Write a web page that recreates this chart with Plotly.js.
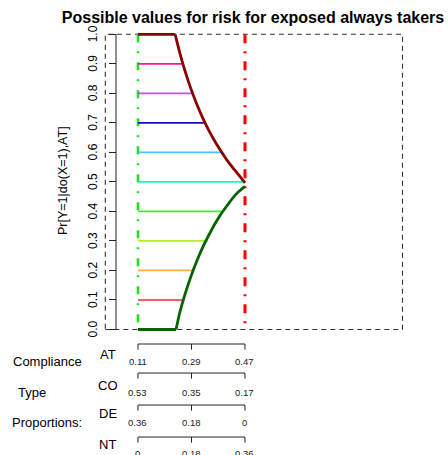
<!DOCTYPE html>
<html>
<head>
<meta charset="utf-8">
<script src="https://cdn.plot.ly/plotly-3.0.1.min.js"></script>
<style>html,body{margin:0;padding:0;background:#fff;}#chart{width:448px;height:455px;}</style>
</head>
<body>
<div id="chart"></div>
<script>
// ---- data ----
const complianceTypes = ["AT", "CO", "DE", "NT"];
const atProps = [0.11, 0.29, 0.47];
const coProps = [0.53, 0.35, 0.17];
const deProps = [0.36, 0.18, 0];
const ntProps = [0, 0.18, 0.36];
const propRows = [atProps, coProps, deProps, ntProps];

const upperP = [0.11, 0.235, 0.25, 0.27, 0.29, 0.31, 0.33, 0.35, 0.37, 0.39, 0.41, 0.43, 0.45, 0.47];
const upperV = [1.0, 1.0, 0.94, 0.87, 0.81, 0.758, 0.712, 0.671, 0.635, 0.603, 0.573, 0.547, 0.522, 0.497];
const lowerP = [0.11, 0.238, 0.25, 0.27, 0.29, 0.31, 0.33, 0.35, 0.37, 0.39, 0.41, 0.43, 0.45, 0.47];
const lowerV = [0.0, 0.0, 0.055, 0.125, 0.185, 0.237, 0.283, 0.323, 0.36, 0.392, 0.42, 0.447, 0.468, 0.485];

const levels    = [0.1, 0.2, 0.3, 0.4, 0.5, 0.6, 0.7, 0.8, 0.9];
const levelEnds = [0.266, 0.300, 0.345, 0.393, 0.47, 0.39, 0.335, 0.293, 0.26];
const levelColors = ["#FF2A2A", "#F5B040", "#B4F028", "#3CF03C", "#10FFB8",
                     "#48C4F8", "#1010C8", "#C050F8", "#FF10B0"];

const yTicks = [0, 0.1, 0.2, 0.3, 0.4, 0.5, 0.6, 0.7, 0.8, 0.9, 1.0];
const yTickText = yTicks.map(v => v.toFixed(1));

// ---- layout helpers ----
const W = 448, H = 455;
const FONT = "Liberation Sans, Arial, Helvetica, sans-serif";
const px = x => x / W;          // paper x from pixel
const py = y => 1 - y / H;      // paper y from pixel

const traces = [];

// vertical dash-dot bounds at smallest and largest AT proportion
traces.push({x: [atProps[0], atProps[0]], y: [1, 0], mode: "lines",
  line: {color: "#22E022", width: 2.6, dash: "8px,9px,2px,9px"}, hoverinfo: "skip"});
traces.push({x: [atProps[2], atProps[2]], y: [1, 0], mode: "lines",
  line: {color: "#FF0000", width: 3, dash: "9px,8px,2px,8px"}, hoverinfo: "skip"});

// coloured horizontal lines
levels.forEach((v, i) => {
  traces.push({x: [atProps[0], levelEnds[i]], y: [v, v], mode: "lines",
    line: {color: levelColors[i], width: 1.7}, hoverinfo: "skip"});
});

// bound curves: flat part straight, curved part smoothed
function addCurve(P, V, color) {
  traces.push({x: P.slice(0, 2), y: V.slice(0, 2), mode: "lines",
    line: {color: color, width: 2.8}, hoverinfo: "skip"});
  traces.push({x: P.slice(1), y: V.slice(1), mode: "lines",
    line: {color: color, width: 2.8, shape: "spline", smoothing: 0.5}, hoverinfo: "skip"});
}
addCurve(upperP, upperV, "#8B0000");
addCurve(lowerP, lowerV, "#006400");

// y-axis line (0..1 only)
traces.push({x: [0.036, 0.036], y: [0, 1], mode: "lines", line: {color: "#222", width: 1}, hoverinfo: "skip"});

const annotations = [];
// y tick labels (rotated, R style)
yTicks.forEach((v, i) => {
  annotations.push({x: px(93), y: v, xref: "paper", yref: "y", text: yTickText[i],
    textangle: -90, showarrow: false, xanchor: "center", yanchor: "middle",
    font: {family: FONT, size: 12, color: "#000"}});
});

// proportion axes under the plot
const rowLineY = [-0.0491, -0.1474, -0.2558, -0.3642];
const tickDrop = 0.019;
const rowLabelY = [-0.110, -0.214, -0.316, -0.420];
const rowNameY = [-0.083, -0.188, -0.283, -0.391];
propRows.forEach((row, r) => {
  const yl = rowLineY[r], yt = yl - tickDrop;
  traces.push({x: [atProps[0], atProps[0], atProps[2], atProps[2], null, atProps[1], atProps[1]],
    y: [yt, yl, yl, yt, null, yl, yt], mode: "lines",
    line: {color: "#222", width: 1}, hoverinfo: "skip"});
  row.forEach((val, k) => {
    annotations.push({x: atProps[k], y: rowLabelY[r], xref: "x", yref: "y", text: String(val),
      showarrow: false, xanchor: "center", yanchor: "middle",
      font: {family: FONT, size: 9.5, color: "#222"}});
  });
  annotations.push({x: 0.009, y: rowNameY[r], xref: "x", yref: "y", text: complianceTypes[r],
    showarrow: false, xanchor: "center", yanchor: "middle",
    font: {family: FONT, size: 13, color: "#000"}});
});

// left side labels
[["Compliance", 47, 361], ["Type", 32, 392], ["Proportions:", 47, 422]].forEach(([t, x, y]) => {
  annotations.push({x: px(x), y: py(y), xref: "paper", yref: "paper", text: t, showarrow: false,
    xanchor: "center", yanchor: "middle", font: {family: FONT, size: 13, color: "#000"}});
});

// y axis title
annotations.push({x: px(63), y: py(181), xref: "paper", yref: "paper", text: "Pr[Y=1|do(X=1),AT]",
  textangle: -90, showarrow: false, xanchor: "center", yanchor: "middle",
  font: {family: FONT, size: 12.5, color: "#000"}});

const layout = {
  width: W, height: H,
  margin: {l: 0, r: 0, t: 0, b: 0, pad: 0},
  paper_bgcolor: "#fff", plot_bgcolor: "#fff",
  showlegend: false,
  title: {text: "<b>Possible values for risk for exposed always takers</b>",
    font: {family: FONT, size: 16, color: "#000"},
    x: px(253), xanchor: "center", xref: "paper",
    y: py(17), yanchor: "middle", yref: "paper"},
  xaxis: {range: [-0.3543, 1.1531], visible: false, fixedrange: true},
  yaxis: {range: [-0.4251, 1.1162], anchor: "free", position: px(116),
    tickvals: yTicks, ticks: "outside", ticklen: 7, showticklabels: false,
    tickwidth: 1, tickcolor: "#222", showline: false,
    showgrid: false, zeroline: false, fixedrange: true},
  shapes: [{type: "rect", xref: "x", yref: "y", x0: 0, x1: 1, y0: 0, y1: 1,
    line: {color: "#333", width: 1.1, dash: "5px,4px"}, layer: "below"}],
  annotations: annotations
};

Plotly.newPlot("chart", traces, layout, {displayModeBar: false, staticPlot: true});
</script>
</body>
</html>
